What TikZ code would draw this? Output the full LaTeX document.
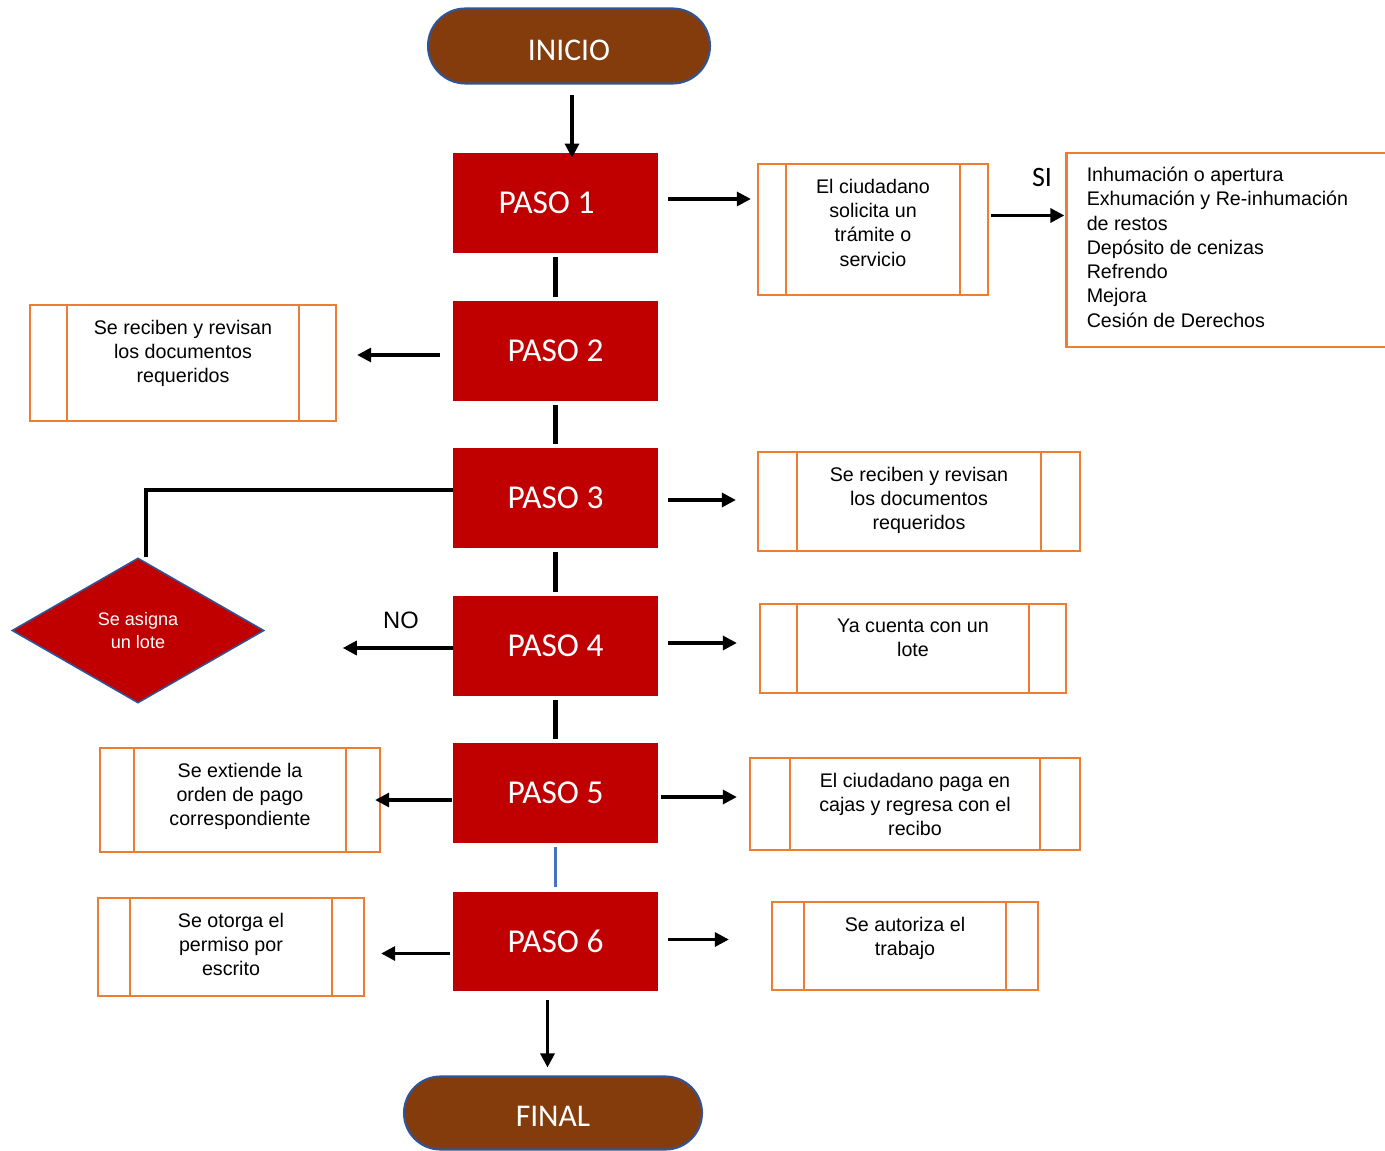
\documentclass[tikz,border=0pt]{standalone}
\usepackage{fontspec}
\setmainfont{Liberation Sans}
\newfontfamily\calfont{Carlito}
\usetikzlibrary{shapes.geometric,shapes.misc,arrows.meta,calc}

\definecolor{stepred}{HTML}{C00000}
\definecolor{termbrown}{HTML}{843C0C}
\definecolor{termblue}{HTML}{2F5597}
\definecolor{procorange}{HTML}{ED7D31}
\definecolor{linkblue}{HTML}{4472C4}

\tikzset{
  terminal/.style={rounded rectangle, draw=termblue, line width=1.2pt, fill=termbrown,
    text=white, font=\calfont\fontsize{18}{20}\selectfont,
    minimum height=1.5cm, inner sep=0pt},
  stepbox/.style={rectangle, fill=stepred, text=white,
    font=\calfont\fontsize{19}{21}\selectfont,
    minimum width=4.1cm, minimum height=2cm, inner sep=0pt},
  procframe/.style={rectangle, draw=procorange, line width=1.3pt, inner sep=0pt},
  procline/.style={draw=procorange, line width=1.3pt},
  boxtext/.style={font=\fontsize{11.2}{13.8}\selectfont, align=center, anchor=north, inner sep=0pt},
  decision/.style={diamond, draw=termblue, line width=0.9pt, fill=stepred, text=white,
    font=\fontsize{10.3}{13}\selectfont, align=center, aspect=1.74,
    minimum width=5.04cm, minimum height=2.9cm, inner sep=0pt},
  arr/.style={line width=1.8pt, -{Triangle[length=0.28cm,width=0.28cm]}},
  link/.style={line width=2.4pt},
  tag/.style={inner sep=0pt},
}

% predefined-process box: name, cx, cy, width, height, inset, text
\newcommand\flowbox[7]{%
  \node[procframe, minimum width=#4*0.02cm, minimum height=#5*0.02cm] (#1) at (#2,#3) {};
  \draw[procline] ([xshift=#6*0.02cm]#1.north west) -- ([xshift=#6*0.02cm]#1.south west);
  \draw[procline] ([xshift=-#6*0.02cm]#1.north east) -- ([xshift=-#6*0.02cm]#1.south east);
  \node[boxtext] (#1t) at ([yshift=-16*0.02cm]#1.north) {#7};
}

\begin{document}
\begin{tikzpicture}[x=0.02cm,y=-0.02cm]
\useasboundingbox[fill=white] (0,0) rectangle (1385,1151);

% terminals
\node[terminal, minimum width=5.64cm] (ini) at (569,46) {\raisebox{-2.3pt}[\height][\depth]{INICIO}};
\node[terminal, minimum width=5.96cm, minimum height=1.46cm] (fin) at (553,1113) {\raisebox{-1.8pt}[\height][\depth]{FINAL}};

% main steps
\node[stepbox] (p1) at (555.5,203) {PASO 1\hspace*{0.36cm}};
\node[stepbox] (p2) at (555.5,351) {PASO 2};
\node[stepbox] (p3) at (555.5,498) {PASO 3};
\node[stepbox] (p4) at (555.5,646) {PASO 4};
\node[stepbox] (p5) at (555.5,793) {PASO 5};
\node[stepbox] (p6) at (555.5,941.5) {PASO 6};

% side boxes
\flowbox{b1}{873}{229.5}{230}{131}{29}{El ciudadano\\solicita un\\trámite o\\servicio}
\flowbox{b2}{183}{363}{306}{116}{38}{Se reciben y revisan\\los documentos\\requeridos}
\flowbox{b3}{919}{501.5}{322}{99}{40}{Se reciben y revisan\\los documentos\\requeridos}
\flowbox{b4}{913}{648.5}{306}{89}{38}{Ya cuenta con un\\lote}
\flowbox{b5l}{240}{800}{280}{104}{35}{Se extiende la\\orden de pago\\correspondiente}
\flowbox{b5r}{915}{804}{330}{92}{41}{El ciudadano paga en\\cajas y regresa con el\\recibo}
\flowbox{b6l}{231}{947}{266}{98}{33}{Se otorga el\\permiso por\\escrito}
\flowbox{b6r}{905}{946}{266}{88}{33}{Se autoriza el\\trabajo}

% list of services
\node[procframe, minimum width=6.7cm, minimum height=3.88cm] (lst) at (1234,250) {};
\node[boxtext, anchor=north west, align=left] (lstt) at ([xshift=21*0.02cm,yshift=-15*0.02cm]lst.north west)
  {Inhumación o apertura\\Exhumación y Re-inhumación\\de restos\\Depósito de cenizas\\Refrendo\\Mejora\\Cesión de Derechos};

% decision
\node[decision] (d) at (138,630.5) {Se asigna\\un lote};

% labels
\node[tag, font=\calfont\fontsize{16}{18}\selectfont] (si) at (1042,177) {SI};
\node[tag, font=\fontsize{13.5}{16}\selectfont] (no) at (401,620) {NO};

% vertical flow
\draw[arr, shorten <=0.2cm, shorten >=-0.1cm] ([xshift=3*0.02cm]ini.south) -- ([xshift=3*0.02cm]ini.south |- p1.north);
\draw[link, shorten <=4*0.02cm, shorten >=4*0.02cm] (p1.south) -- (p2.north);
\draw[link, shorten <=4*0.02cm, shorten >=4*0.02cm] (p2.south) -- (p3.north);
\draw[link, shorten <=4*0.02cm, shorten >=4*0.02cm] (p3.south) -- (p4.north);
\draw[link, shorten <=4*0.02cm, shorten >=4*0.02cm] (p4.south) -- (p5.north);
\draw[linkblue, line width=1.4pt, shorten <=4*0.02cm, shorten >=4*0.02cm] (p5.south) -- (p6.north);
\draw[arr, shorten <=8*0.02cm, shorten >=8*0.02cm] ([xshift=-8*0.02cm]p6.south) -- ([xshift=-8*0.02cm]p6.south |- fin.north);

% side arrows
\draw[arr, shorten <=10*0.02cm, shorten >=6*0.02cm] ([yshift=4*0.02cm]p1.east) -- ([yshift=4*0.02cm]p1.east -| b1.west);
\draw[arr, shorten <=2*0.02cm, shorten >=1*0.02cm] ([yshift=14*0.02cm]b1.east) -- ([yshift=14*0.02cm]b1.east -| lst.west);
\draw[arr, shorten <=13*0.02cm, shorten >=20*0.02cm] ([yshift=-4*0.02cm]p2.west) -- ([yshift=-4*0.02cm]p2.west -| b2.east);
\draw[arr, shorten <=10*0.02cm, shorten >=21*0.02cm] ([yshift=-2*0.02cm]p3.east) -- ([yshift=-2*0.02cm]p3.east -| b3.west);
\draw[link, line width=2pt] ([yshift=8*0.02cm]p3.west) -| ([xshift=8*0.02cm]d.north);
\draw[arr, shorten >=78*0.02cm] ([yshift=-2*0.02cm]p4.west) -- ([yshift=-2*0.02cm]p4.west -| d.east);
\draw[arr, shorten <=10*0.02cm, shorten >=22*0.02cm] ([yshift=3*0.02cm]p4.east) -- ([yshift=3*0.02cm]p4.east -| b4.west);
\draw[arr, shorten <=1*0.02cm, shorten >=-6*0.02cm] ([yshift=-7*0.02cm]p5.west) -- ([yshift=-7*0.02cm]p5.west -| b5l.east);
\draw[arr, shorten <=3*0.02cm, shorten >=12*0.02cm] ([yshift=-4*0.02cm]p5.east) -- ([yshift=-4*0.02cm]p5.east -| b5r.west);
\draw[arr, shorten <=3*0.02cm, shorten >=16*0.02cm] ([yshift=-12*0.02cm]p6.west) -- ([yshift=-12*0.02cm]p6.west -| b6l.east);
\draw[arr, shorten <=10*0.02cm, shorten >=42*0.02cm] ([yshift=2*0.02cm]p6.east) -- ([yshift=2*0.02cm]p6.east -| b6r.west);
\end{tikzpicture}
\end{document}
